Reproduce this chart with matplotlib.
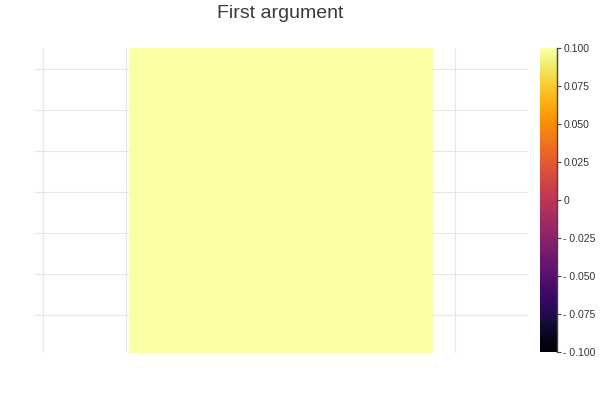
import matplotlib
matplotlib.use("Agg")
import matplotlib.pyplot as plt
import numpy as np

plt.rcParams['font.family'] = ['Liberation Sans', 'DejaVu Sans']

title = "First argument"
values = np.array([[0.1]])
x_edges = [0.5, 1.5]
y_edges = [0.5, 1.5]
clim = (-0.1, 0.1)
xgrid = [0.217, 0.49, 1.572]
ygrid = [0.625, 0.759, 0.893, 1.028, 1.162, 1.297, 1.431]
cb_ticks = [0.1, 0.075, 0.05, 0.025, 0.0, -0.025, -0.05, -0.075, -0.1]
cb_labels = ["0.100", "0.075", "0.050", "0.025", "0", "- 0.025", "- 0.050", "- 0.075", "- 0.100"]

fig = plt.figure(figsize=(6, 4), dpi=100)
ax = fig.add_axes([35/600, 47/400, 493/600, 305/400])
mesh = ax.pcolormesh(x_edges, y_edges, values, cmap="inferno", vmin=clim[0], vmax=clim[1], zorder=2)
ax.set_xlim(0.191, 1.8125)
ax.set_ylim(0.5, 1.5)
ax.set_xticks(xgrid)
ax.set_yticks(ygrid)
ax.set_xticklabels([])
ax.set_yticklabels([])
ax.tick_params(length=0)
ax.grid(True, color="#e6e6e6", linewidth=0.8, zorder=0)
ax.set_axisbelow(True)
for s in ax.spines.values():
    s.set_visible(False)
fig.text(280/600, 1 - 13/400, title, ha="center", va="center", fontsize=14, color="#3a3a3a")

cax = fig.add_axes([540/600, 48/400, 17/600, 304/400])
cb = fig.colorbar(mesh, cax=cax)
cb.outline.set_visible(False)
cax.spines["right"].set_visible(True)
cax.spines["right"].set_color("#444444")
cax.spines["right"].set_linewidth(1.0)
cb.set_ticks(cb_ticks)
cb.set_ticklabels(cb_labels)
cax.tick_params(axis="y", length=3, width=0.8, color="#444444", labelsize=7.5, labelcolor="#333333", pad=1.5)

fig.savefig("out.png", dpi=100)
